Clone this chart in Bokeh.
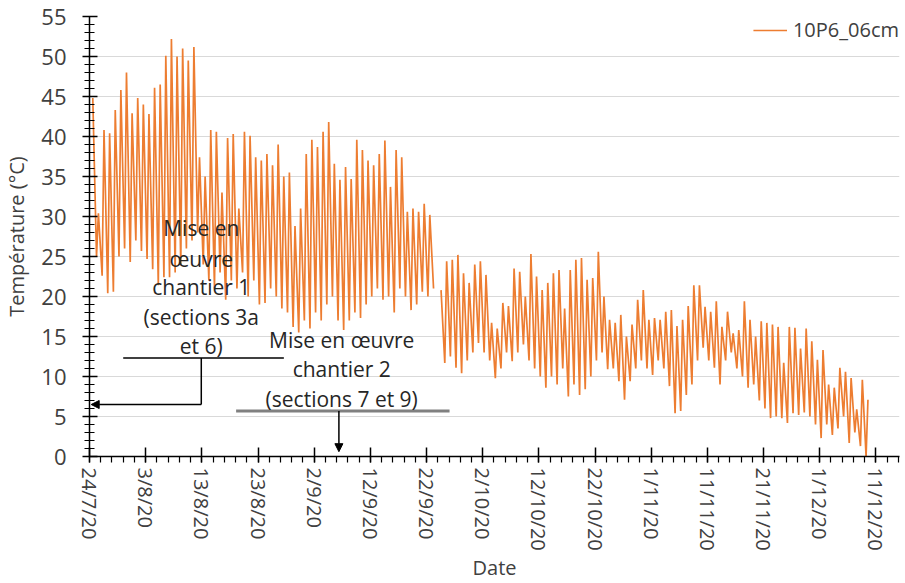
import math
import pandas as pd
from bokeh.plotting import figure
from bokeh.models import Range1d, FixedTicker, SingleIntervalTicker, Arrow, NormalHead
from bokeh.core.properties import value
from bokeh.embed import file_html
from bokeh.resources import INLINE

NaN = float("nan")

# ---------------- data ----------------
START = "2020-07-24"
SERIES_NAME = "10P6_06cm"

# daily afternoon maxima (°C), one per day from 24/7/20
daily_max = [
    44.8, 30.4, 40.8, 40.4, 43.3, 45.8, 48.0, 42.9, 44.8, 44.0,
    42.8, 46.1, 46.5, 50.1, 52.2, 50.0, 51.0, 49.5, 51.2,
    37.4, 35.0, 40.8, 40.6, 33.0, 39.8, 40.3, 31.0, 40.6, 40.1,
    37.4, 37.0, 37.8, 36.4, 39.0, 35.0, 35.5, 28.8, 31.0, 37.8,
    39.6, 38.7, 40.6, 41.8, 36.6, 34.6, 36.2, 34.7, 39.6, 38.3,
    37.0, 36.4, 37.8, 39.5, 33.7, 38.3, 37.4, 30.6, 31.0, 30.6,
    31.6, 30.2,
    NaN,
    20.8, 24.4, 24.6, 25.2, 22.9, 21.7, 24.0, 24.4, 22.7, 16.7,
    16.0, 19.2, 18.8, 23.5, 23.1, 20.0, 25.3, 22.5, 20.8, 21.7,
    22.9, 23.3, 18.5, 23.3, 24.6, 24.8, 22.1, 22.3, 25.6, 20.0,
    17.1, 16.7, 17.7, 15.0, 16.5, 19.6, 20.8, 17.1, 17.3, 17.1,
    18.1, 18.3, 16.3, 17.1, 18.8, 21.4, 21.4, 18.7, 18.1, 19.4,
    16.2, 18.1, 15.4, 15.8, 19.4, 17.1, 15.0, 16.9, 16.7, 16.5,
    16.2, 11.7, 16.2, 16.1, 13.5, 16.0, 14.4, 12.1, 13.3, 9.0,
    8.6, 11.1, 10.6, 9.8, 5.9, 9.6, 7.1,
]

# following-morning minima (°C)
daily_min = [
    25.0, 22.6, 20.4, 20.6, 25.0, 26.0, 24.3, 27.0, 25.7, 24.7,
    23.4, 21.4, 22.4, 22.4, 23.0, 24.0, 26.0, 27.0, 28.0,
    24.0, 22.0, 21.0, 23.0, 19.6, 22.0, 21.0, 23.0, 20.0, 22.0,
    19.0, 19.2, 21.0, 20.0, 18.5, 18.0, 16.2, 15.5, 17.0, 16.0,
    18.0, 17.0, 19.0, 20.0, 17.0, 15.8, 17.0, 18.0, 17.3, 19.0,
    20.0, 21.0, 19.6, 20.0, 18.0, 21.0, 20.0, 18.3, 19.0, 20.6,
    20.0, 21.0,
    NaN,
    11.7, 12.5, 11.1, 10.4, 12.0, 13.0, 14.2, 13.0, 12.0, 9.8,
    11.0, 13.0, 11.9, 13.0, 14.0, 12.0, 11.0, 10.0, 8.6, 10.0,
    9.0, 11.0, 7.5, 9.0, 7.7, 8.4, 10.0, 12.0, 13.0, 10.9,
    11.0, 9.4, 7.1, 9.4, 11.0, 12.0, 11.0, 10.2, 12.0, 11.0,
    8.8, 5.4, 5.7, 7.7, 9.0, 12.0, 13.6, 12.0, 11.1, 9.0,
    12.0, 13.0, 11.0, 10.0, 8.6, 9.0, 7.0, 6.0, 4.8, 5.0,
    4.8, 4.2, 5.4, 5.2, 5.5, 5.0, 4.0, 2.3, 4.0, 2.7,
    3.5, 5.0, 1.7, 3.0, 1.3, 0.0,
]

tick_dates = ["2020-07-24", "2020-08-03", "2020-08-13", "2020-08-23", "2020-09-02",
              "2020-09-12", "2020-09-22", "2020-10-02", "2020-10-12", "2020-10-22",
              "2020-11-01", "2020-11-11", "2020-11-21", "2020-12-01", "2020-12-11"]
tick_labels = ["24/7/20", "3/8/20", "13/8/20", "23/8/20", "2/9/20", "12/9/20", "22/9/20",
               "2/10/20", "12/10/20", "22/10/20", "1/11/20", "11/11/20", "21/11/20",
               "1/12/20", "11/12/20"]

ann1_lines = ["Mise en", "œuvre", "chantier 1", "(sections 3a", "et 6)"]
ann2_lines = ["Mise en œuvre", "chantier 2", "(sections 7 et 9)"]

# ---------------- build series ----------------
t0 = pd.Timestamp(START)


def ms(ts):
    return ts.value / 1e6


def day(d):
    return ms(t0 + pd.Timedelta(days=d))


xs, ys = [], []
for d, mx in enumerate(daily_max):
    xs.append(t0 + pd.Timedelta(hours=24 * d + 14))
    ys.append(mx)
    if d < len(daily_min):
        xs.append(t0 + pd.Timedelta(hours=24 * d + 30))
        ys.append(daily_min[d])

FONT = "Open Sans"
TXT = "#404040"

p = figure(width=905, height=583, x_axis_type="datetime",
           x_range=Range1d(day(0), day(144.2)), y_range=Range1d(0, 55),
           output_backend="svg", toolbar_location=None,
           min_border_left=87, min_border_right=6, min_border_top=16, min_border_bottom=126)
p.outline_line_color = None
p.background_fill_color = "white"

p.line(xs, ys, line_color="#ED7D31", line_width=1.7, legend_label=SERIES_NAME)

# axes
tick_ms = [ms(pd.Timestamp(t)) for t in tick_dates]
minor_ms = [day(k) for k in range(0, 145, 2)]
p.xaxis.ticker = FixedTicker(ticks=tick_ms, minor_ticks=minor_ms)
p.xaxis.major_label_overrides = {t: l for t, l in zip(tick_ms, tick_labels)}
p.xaxis.major_label_orientation = -math.pi / 2
p.yaxis.ticker = SingleIntervalTicker(interval=5, num_minor_ticks=5)

for ax in (p.xaxis[0], p.yaxis[0]):
    ax.axis_line_color = "black"
    ax.axis_line_width = 1.5
    ax.major_tick_line_color = "black"
    ax.minor_tick_line_color = "black"
    ax.major_tick_line_width = 1.5
    ax.minor_tick_line_width = 1.2
    ax.major_label_text_font = FONT
    ax.major_label_text_color = TXT
    ax.axis_label_text_font = FONT
    ax.axis_label_text_font_size = "20px"
    ax.axis_label_text_font_style = "normal"
    ax.axis_label_text_color = TXT

p.xaxis.major_label_text_font_size = "20px"
p.yaxis.major_label_text_font_size = "22px"

p.xaxis.major_tick_in = 9
p.xaxis.major_tick_out = 6
p.xaxis.minor_tick_in = 0
p.xaxis.minor_tick_out = 6
p.xaxis.major_label_standoff = 5
p.xaxis.axis_label = "Date"
p.xaxis.axis_label_standoff = 0

p.yaxis.major_tick_in = 8
p.yaxis.major_tick_out = 7
p.yaxis.minor_tick_in = 5
p.yaxis.minor_tick_out = 5
p.yaxis.major_label_standoff = 16
p.yaxis.axis_label = "Température (°C)"
p.yaxis.axis_label_standoff = 8

p.xgrid.visible = False
p.ygrid.grid_line_color = "#d9d9d9"
p.ygrid.grid_line_width = 1.2
p.ygrid.ticker = SingleIntervalTicker(interval=5)

# legend
lg = p.legend[0]
lg.location = "top_right"
lg.border_line_color = None
lg.background_fill_alpha = 0
lg.margin = 0
lg.padding = 4
lg.glyph_width = 34
lg.label_standoff = 6
lg.label_text_font = FONT
lg.label_text_font_size = "20px"
lg.label_text_color = TXT

# annotations (chantier 1)
p.segment(x0=[day(6.0)], y0=[12.3], x1=[day(34.6)], y1=[12.3], line_color="black", line_width=1.5)
p.segment(x0=[day(19.9)], y0=[12.3], x1=[day(19.9)], y1=[6.5], line_color="black", line_width=1.5)
p.add_layout(Arrow(end=NormalHead(size=8, fill_color="black", line_color="black"),
                   x_start=day(19.9), y_start=6.5, x_end=day(0.3), y_end=6.5,
                   line_color="black", line_width=1.5))
p.text(x=[day(19.9)] * len(ann1_lines), y=[28.6, 24.7, 21.2, 17.5, 13.8], text=ann1_lines,
       text_font=value(FONT), text_font_size="21px", text_color="#262626",
       text_align="center", text_baseline="middle")

# annotations (chantier 2)
p.segment(x0=[day(26.1)], y0=[5.7], x1=[day(64.1)], y1=[5.7], line_color="#808080", line_width=3)
p.add_layout(Arrow(end=NormalHead(size=8, fill_color="black", line_color="black"),
                   x_start=day(44.4), y_start=5.7, x_end=day(44.4), y_end=0.6,
                   line_color="black", line_width=1.5))
p.text(x=[day(44.9)] * len(ann2_lines), y=[14.6, 11.0, 7.2], text=ann2_lines,
       text_font=value(FONT), text_font_size="21px", text_color="#262626",
       text_align="center", text_baseline="middle")

open("out.html", "w").write(file_html(p, INLINE))
